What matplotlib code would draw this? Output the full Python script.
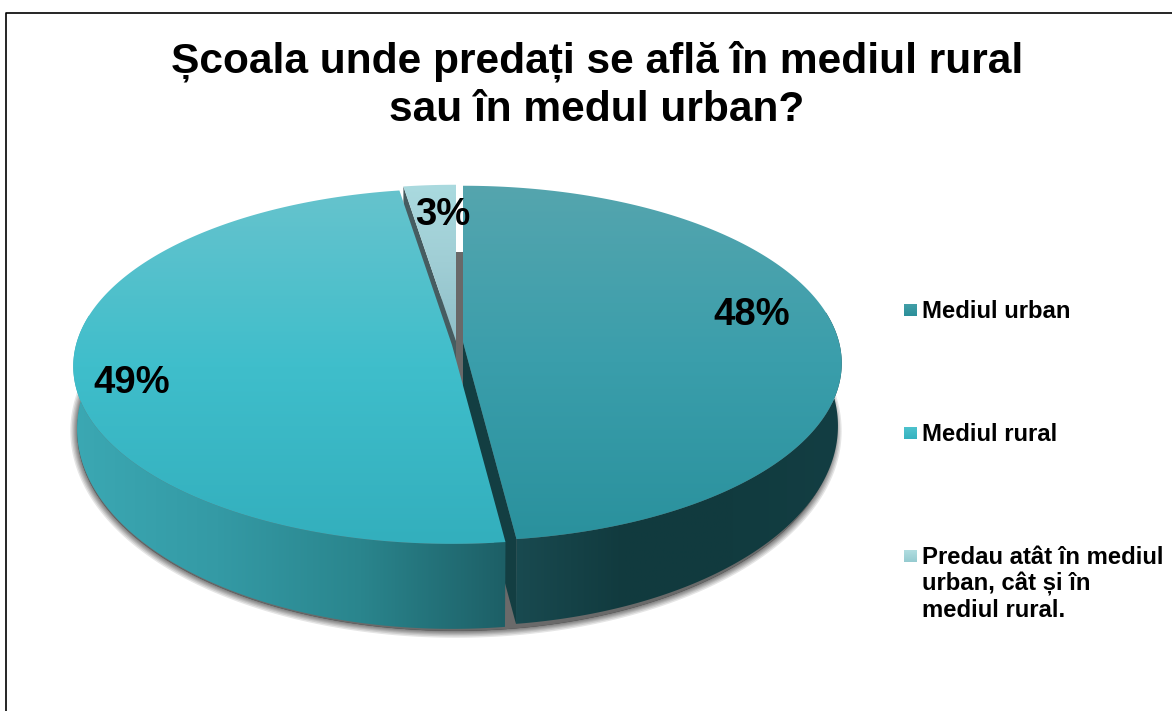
import numpy as np
import matplotlib
matplotlib.use('Agg')
import matplotlib.pyplot as plt
from matplotlib.colors import LinearSegmentedColormap
from matplotlib.patches import Polygon, Rectangle

# chart data
categories = ['Mediul urban', 'Mediul rural', 'Predau atât în mediul\nurban, cât și în\nmediul rural.']
shares = [48.0, 49.5, 2.5]
pct_labels = ['48%', '49%', '3%']
title = 'Școala unde predați se află în mediul rural\nsau în medul urban?'

# layout of the pie, in pixels
RX, RY, PERSP, DEPTH, SIDE_DEPTH = 376, 175, 0.12, 85, 60
apexes = [(463, 342), (452, 345), (456, 341)]
label_pos = [(752, 315), (132, 383), (443, 215)]
legend_y = [310, 433, 556]

top_grads = [['#55a5ae', '#3a9eab', '#2a919d'],
             ['#66c3cd', '#3fbecb', '#33afbd'],
             ['#aadadf', '#a0ced5', '#8fbfc8']]
swatch_grads = [['#45a0a8', '#2a8f9a'], ['#50c4ce', '#35b2c0'], ['#b4dfe2', '#95cbd0']]
wall_grads = [['#194a50', '#113a3e', '#113b3f', '#133e43'], ['#3ba8b3', '#349aa5', '#2a858d', '#1d5f66']]

plt.rcParams['font.family'] = ['Liberation Sans', 'DejaVu Sans']
fig = plt.figure(figsize=(11.72, 7.11), dpi=100)
ax = fig.add_axes([0, 0, 1, 1])
ax.axis('off')


def rim(apex, theta):
    """Top rim of the pie for angles in degrees, clockwise from 12 o'clock."""
    t = np.radians(theta)
    u, v = np.sin(t), -np.cos(t)
    s = 1 / (1 - PERSP * v)
    return np.column_stack([apex[0] + RX * u * s, apex[1] + RY * v * s])


def lower_rim(apex, theta, shrink=0.99):
    """Bottom rim: a bit narrower than the top one and deeper at the front than at the sides."""
    t = np.radians(theta)
    u, v = np.sin(t), -np.cos(t)
    s = 1 / (1 - PERSP * v)
    k = (RY / (1 - PERSP) + DEPTH - SIDE_DEPTH) / (RY / (1 - PERSP))
    return np.column_stack([apex[0] + RX * shrink * u * s, apex[1] + SIDE_DEPTH + RY * k * v * s])


def grad_fill(points, colors, horizontal=False, zorder=2):
    """Fill a polygon with a linear gradient, using imshow clipped to it."""
    cmap = LinearSegmentedColormap.from_list('g', colors)
    ramp = np.linspace(0, 1, 256)
    ramp = ramp.reshape(1, -1) if horizontal else ramp.reshape(-1, 1)
    x0, y0 = points.min(axis=0)
    x1, y1 = points.max(axis=0)
    im = ax.imshow(ramp, cmap=cmap, extent=[x0, x1, y1, y0], aspect='auto', zorder=zorder,
                   interpolation='bilinear')
    im.set_clip_path(Polygon(points, transform=ax.transData))


# slice angles come from the shares
edges = np.concatenate([[0], np.cumsum(shares) / np.sum(shares) * 360])
arcs = [np.linspace(edges[i], edges[i + 1], 200) for i in range(3)]

# soft shadow under the pie
full = np.linspace(60, 300, 241)
shadow = np.vstack([lower_rim((456, 345), full, shrink=1.0) + [0, 2], [[456, 300]]])
for width in [10, 8, 6, 4.5, 3, 1.5]:
    ax.fill(shadow[:, 0], shadow[:, 1], color='black', alpha=0.1, lw=width, zorder=1, joinstyle='round')
ax.fill(shadow[:, 0], shadow[:, 1], color='#6a6a6a', lw=0, zorder=1)

# grey gap behind the small slice
ax.add_patch(Rectangle((apexes[2][0], 252), apexes[0][0] - apexes[2][0], 140, color='#696969', lw=0, zorder=2))

# urban slice: cut face, outer wall, top
a = np.array([apexes[0]], dtype=float)
end = rim(apexes[0], edges[[1]])
face = np.vstack([a, end, lower_rim(apexes[0], edges[[1]]), a + [0, DEPTH]])
ax.add_patch(Polygon(face, color='#133e42', lw=0, zorder=2))
vis = np.linspace(80, edges[1], 200)
wall = np.vstack([rim(apexes[0], vis), lower_rim(apexes[0], vis)[::-1]])
grad_fill(wall, wall_grads[0], horizontal=True, zorder=3)
grad_fill(np.vstack([a, rim(apexes[0], arcs[0])]), top_grads[0], zorder=4)

# small slice: cut face and top
a2 = np.array([apexes[2]], dtype=float)
start2 = rim(apexes[2], edges[[2]])
face2 = np.vstack([a2, start2, start2 + [0, DEPTH], a2 + [0, DEPTH]])
ax.add_patch(Polygon(face2, color='#465c60', lw=0, zorder=3))
grad_fill(np.vstack([a2, rim(apexes[2], arcs[2])]), top_grads[2], zorder=4)

# rural slice: outer wall and top
a1 = np.array([apexes[1]], dtype=float)
vis = np.linspace(edges[1], 280, 200)
wall = np.vstack([rim(apexes[1], vis), lower_rim(apexes[1], vis)[::-1]])
grad_fill(wall, wall_grads[1], horizontal=True, zorder=5)
grad_fill(np.vstack([a1, rim(apexes[1], arcs[1])]), top_grads[1], zorder=6)

for (x, y), lab in zip(label_pos, pct_labels):
    ax.text(x, y, lab, fontsize=27.5, fontweight='bold', ha='center', va='center', zorder=10)

# legend
for name, y, cols in zip(categories, legend_y, swatch_grads):
    box = np.array([[904, y - 6.5], [917, y - 6.5], [917, y + 6.5], [904, y + 6.5]])
    grad_fill(box, cols, zorder=8)
    ax.text(922, y - 10, name, fontsize=17.2, fontweight='bold', ha='left', va='top', linespacing=1.16, zorder=10)

ax.text(597, 85, title, fontsize=30.6, fontweight='bold', ha='center', va='center', linespacing=1.27, zorder=10)

# chart frame, runs off the right and bottom of the picture
ax.plot([6, 6, 1180], [720, 13, 13], color='black', lw=1.2, zorder=11, clip_on=False)
ax.set_xlim(0, 1172)
ax.set_ylim(711, 0)

fig.savefig('out.png', dpi=100)
